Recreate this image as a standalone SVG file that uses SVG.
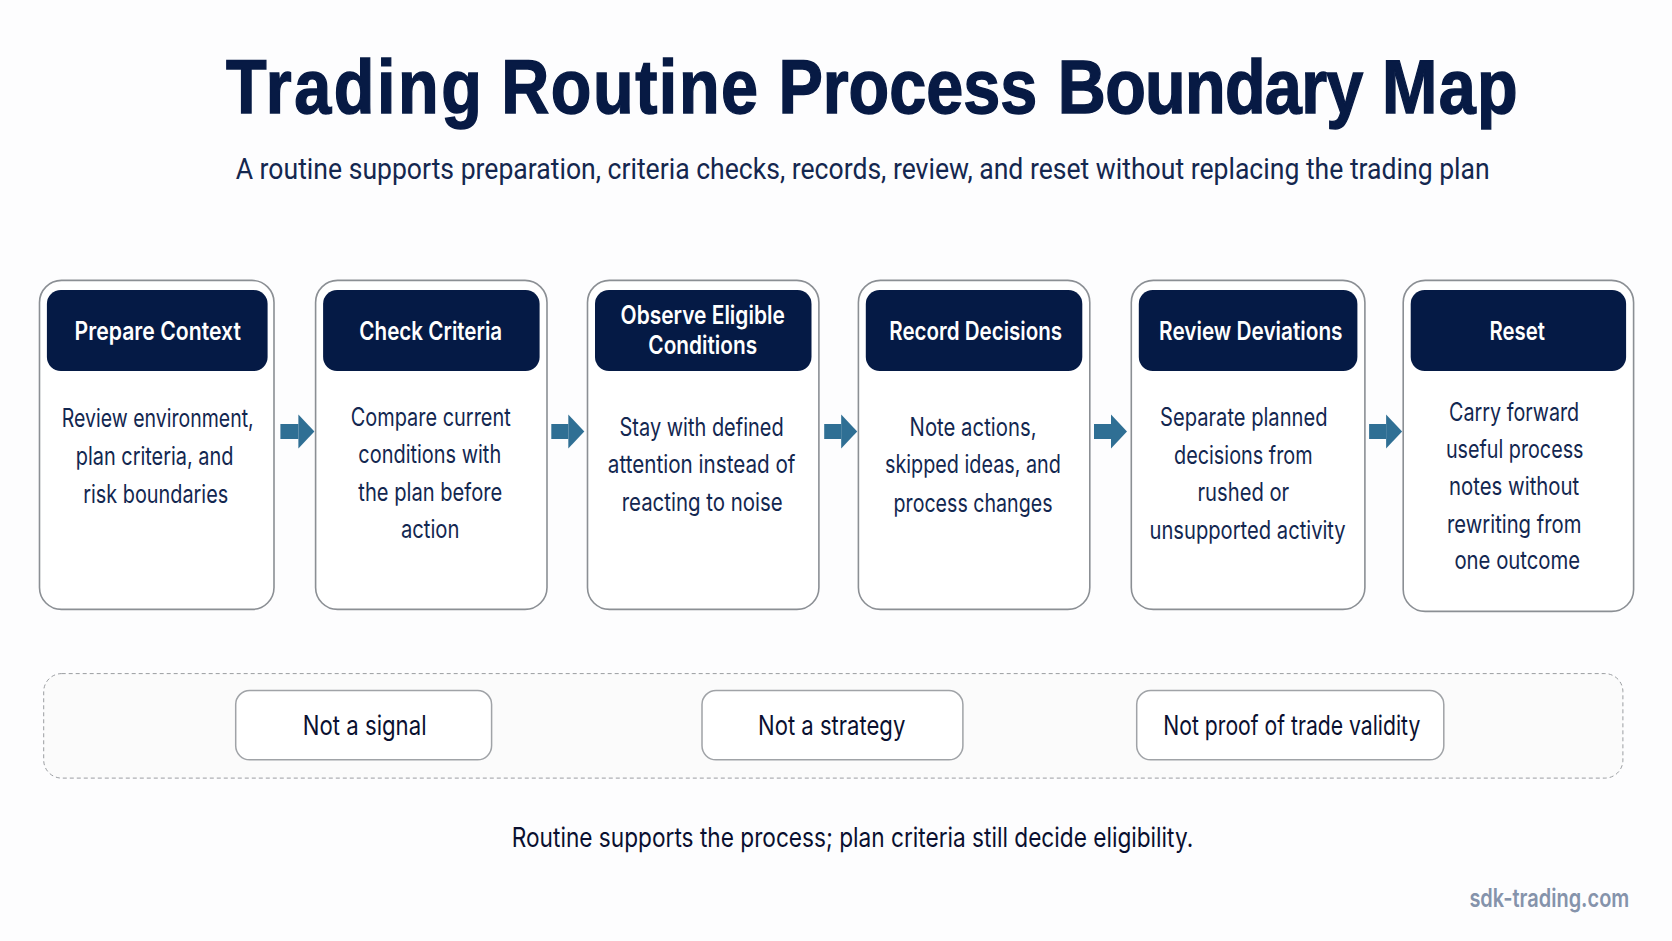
<svg xmlns="http://www.w3.org/2000/svg" width="1672" height="941" viewBox="0 0 1672 941">
<style>
text{font-family:Inter,"Liberation Sans",sans-serif;fill:#0b1b42}
.title{font-family:"Liberation Sans",Arial,sans-serif;font-size:76px;font-weight:700;fill:#071a44;stroke:#071a44;stroke-width:1.4}
.sub{font-family:Roboto,"Liberation Sans",sans-serif;font-size:30px;fill:#14274f}
.card{fill:#fff;stroke:#8b8f94;stroke-width:1.6}
.head{fill:#051a45}
.ht{font-size:25px;font-weight:600;fill:#fff}
.b{font-size:25px;fill:#132750}
.chip{fill:#fff;stroke:#a0a3a7;stroke-width:1.5}
.ct{font-size:27px;fill:#0a1030}
.arr{stroke:#2f6f94;stroke-width:15}
</style>
<defs><marker id="ah" markerUnits="userSpaceOnUse" markerWidth="17" markerHeight="36" refX="0" refY="18" orient="auto"><path d="M0 1L16 18L0 35z" fill="#2f6f94"/></marker></defs>
<rect id="background" width="1672" height="941" fill="#fdfdfe"/>
<g id="heading">
<text class="title" y="113" transform="scale(.875 1)"><tspan x="258.4" letter-spacing="3">Trading</tspan> <tspan x="572.8" letter-spacing="1.8">Routine</tspan> <tspan x="889.6">Process</tspan> <tspan x="1208.9" letter-spacing="-.77">Boundary</tspan> <tspan x="1579.3" letter-spacing="1.6">Map</tspan></text>
<text class="sub" x="235.7" y="179.1" textLength="1254" lengthAdjust="spacingAndGlyphs">A routine supports preparation, criteria checks, records, review, and reset without replacing the trading plan</text>
</g>
<g id="connectors">
<line class="arr" x1="280.4" y1="431.5" x2="298.4" y2="431.5" marker-end="url(#ah)"/>
<line class="arr" x1="551.3" y1="431.5" x2="568.3" y2="431.5" marker-end="url(#ah)"/>
<line class="arr" x1="824.2" y1="431.5" x2="841.2" y2="431.5" marker-end="url(#ah)"/>
<line class="arr" x1="1094" y1="431.5" x2="1111" y2="431.5" marker-end="url(#ah)"/>
<line class="arr" x1="1369.1" y1="431.5" x2="1386.1" y2="431.5" marker-end="url(#ah)"/>
</g>
<g id="node-prepare-context">
<rect class="card" x="39.5" y="280.4" width="234.5" height="329" rx="22"/>
<rect class="head" x="46.9" y="290" width="220.7" height="81" rx="14"/>
<text class="ht" x="74.6" y="340.2" textLength="166.3" lengthAdjust="spacingAndGlyphs">Prepare Context</text>
<text class="b" x="61.8" y="426.6" textLength="191.9" lengthAdjust="spacingAndGlyphs">Review environment,</text>
<text class="b" x="75.7" y="464.9" textLength="157.8" lengthAdjust="spacingAndGlyphs">plan criteria, and</text>
<text class="b" x="83.2" y="503.2" textLength="145" lengthAdjust="spacingAndGlyphs">risk boundaries</text>
</g>
<g id="node-check-criteria">
<rect class="card" x="315.6" y="280.4" width="231.4" height="329" rx="22"/>
<rect class="head" x="323.1" y="290" width="216.5" height="81" rx="14"/>
<text class="ht" x="359.3" y="340.2" textLength="142.9" lengthAdjust="spacingAndGlyphs">Check Criteria</text>
<text class="b" x="350.8" y="425.5" textLength="159.9" lengthAdjust="spacingAndGlyphs">Compare current</text>
<text class="b" x="358.3" y="463.3" textLength="142.9" lengthAdjust="spacingAndGlyphs">conditions with</text>
<text class="b" x="358.3" y="500.7" textLength="144" lengthAdjust="spacingAndGlyphs">the plan before</text>
<text class="b" x="400.9" y="537.5" textLength="58.6" lengthAdjust="spacingAndGlyphs">action</text>
</g>
<g id="node-observe-eligible-conditions">
<rect class="card" x="587.5" y="280.4" width="231.4" height="329" rx="22"/>
<rect class="head" x="595" y="290" width="216.5" height="81" rx="14"/>
<text class="ht" x="620.6" y="324.2" textLength="164.2" lengthAdjust="spacingAndGlyphs">Observe Eligible</text>
<text class="ht" x="648.3" y="354.1" textLength="108.8" lengthAdjust="spacingAndGlyphs">Conditions</text>
<text class="b" x="619.5" y="436" textLength="164.2" lengthAdjust="spacingAndGlyphs">Stay with defined</text>
<text class="b" x="607.8" y="473.4" textLength="187.7" lengthAdjust="spacingAndGlyphs">attention instead of</text>
<text class="b" x="621.7" y="510.8" textLength="161" lengthAdjust="spacingAndGlyphs">reacting to noise</text>
</g>
<g id="node-record-decisions">
<rect class="card" x="858.4" y="280.4" width="231.4" height="329" rx="22"/>
<rect class="head" x="865.8" y="290" width="216.5" height="81" rx="14"/>
<text class="ht" x="889.3" y="340.2" textLength="172.7" lengthAdjust="spacingAndGlyphs">Record Decisions</text>
<text class="b" x="909.6" y="436.1" textLength="126.9" lengthAdjust="spacingAndGlyphs">Note actions,</text>
<text class="b" x="885" y="473.4" textLength="175.9" lengthAdjust="spacingAndGlyphs">skipped ideas, and</text>
<text class="b" x="893.6" y="511.8" textLength="158.9" lengthAdjust="spacingAndGlyphs">process changes</text>
</g>
<g id="node-review-deviations">
<rect class="card" x="1131.3" y="280.4" width="233.6" height="329" rx="22"/>
<rect class="head" x="1138.8" y="290" width="218.6" height="81" rx="14"/>
<text class="ht" x="1159.1" y="340.2" textLength="183.4" lengthAdjust="spacingAndGlyphs">Review Deviations</text>
<text class="b" x="1160.1" y="425.5" textLength="167.4" lengthAdjust="spacingAndGlyphs">Separate planned</text>
<text class="b" x="1174" y="463.8" textLength="138.6" lengthAdjust="spacingAndGlyphs">decisions from</text>
<text class="b" x="1197.5" y="501.2" textLength="91.7" lengthAdjust="spacingAndGlyphs">rushed or</text>
<text class="b" x="1149.5" y="538.5" textLength="196.2" lengthAdjust="spacingAndGlyphs">unsupported activity</text>
</g>
<g id="node-reset">
<rect class="card" x="1403.2" y="280.4" width="230.4" height="331" rx="22"/>
<rect class="head" x="1410.7" y="290" width="215.4" height="81" rx="14"/>
<text class="ht" x="1489.6" y="340.2" textLength="55.4" lengthAdjust="spacingAndGlyphs">Reset</text>
<text class="b" x="1449.1" y="421.2" textLength="130.1" lengthAdjust="spacingAndGlyphs">Carry forward</text>
<text class="b" x="1445.9" y="457.5" textLength="137.6" lengthAdjust="spacingAndGlyphs">useful process</text>
<text class="b" x="1449.1" y="494.8" textLength="130.1" lengthAdjust="spacingAndGlyphs">notes without</text>
<text class="b" x="1447" y="532.7" textLength="134.4" lengthAdjust="spacingAndGlyphs">rewriting from</text>
<text class="b" x="1454.4" y="569.4" textLength="125.8" lengthAdjust="spacingAndGlyphs">one outcome</text>
</g>
<g id="boundary">
<rect x="43.7" y="673.6" width="1579.2" height="104.5" rx="18" fill="#fbfbfb" stroke="#9a9da1" stroke-width="1" stroke-dasharray="4 3"/>
</g>
<g id="node-not-a-signal">
<rect class="chip" x="235.7" y="690.5" width="255.9" height="69.3" rx="14"/>
<text class="ct" x="302.8" y="734.7" textLength="123.7" lengthAdjust="spacingAndGlyphs">Not a signal</text>
</g>
<g id="node-not-a-strategy">
<rect class="chip" x="702" y="690.5" width="260.9" height="69.3" rx="14"/>
<text class="ct" x="758.1" y="734.7" textLength="147.2" lengthAdjust="spacingAndGlyphs">Not a strategy</text>
</g>
<g id="node-not-proof">
<rect class="chip" x="1136.7" y="690.5" width="307.1" height="69.3" rx="14"/>
<text class="ct" x="1163.3" y="734.7" textLength="257" lengthAdjust="spacingAndGlyphs">Not proof of trade validity</text>
</g>
<g id="footer">
<text class="ct" x="511.8" y="846.6" textLength="681.4" lengthAdjust="spacingAndGlyphs">Routine supports the process; plan criteria still decide eligibility.</text>
<text x="1469.4" y="907.3" font-size="25" font-weight="600" style="fill:#8593ab" textLength="159.9" lengthAdjust="spacingAndGlyphs">sdk-trading.com</text>
</g>
</svg>
